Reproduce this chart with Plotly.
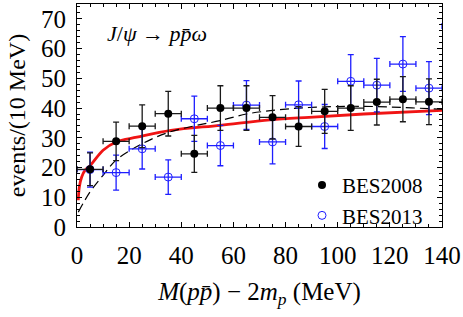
import plotly.graph_objects as go

# BES2008 (filled black)
bes08_x = [5, 15, 25, 35, 45, 55, 65, 75, 85, 95, 105, 115, 125, 135]
bes08_y = [19.4, 28.8, 33.9, 38.1, 24.6, 40.0, 40.0, 36.9, 33.8, 38.9, 40.0, 42.0, 43.0, 42.1]
bes08_err = [5.5, 6.5, 7.2, 7.5, 6.2, 7.5, 7.5, 7.3, 6.7, 7.4, 7.5, 7.7, 7.6, 7.7]

# BES2013 (open blue)
bes13_x = [5, 15, 25, 35, 45, 55, 65, 75, 85, 95, 105, 115, 125, 135, 145]
bes13_y = [19.3, 18.3, 26.3, 16.8, 36.4, 27.4, 41.0, 28.6, 41.1, 33.8, 49.0, 47.7, 54.8, 46.7, 67.6]
bes13_err = [5.9, 5.9, 6.8, 5.8, 7.6, 6.8, 8.2, 7.4, 8.0, 7.4, 9.0, 9.0, 9.2, 8.9, 9.0]

bin_half = 5

# red solid curve
red_x = [0.5, 0.9, 1.8, 3.1, 5.2, 10, 15, 23, 36, 55, 74, 89, 110, 140]
red_y = [9.0, 13.5, 16.8, 19.1, 20.8, 25.8, 28.6, 30.2, 32.5, 34.2, 36.0, 36.9, 38.0, 39.2]

# black dashed curve
dash_x = [0.5, 5, 10, 15, 25, 35, 45, 55, 65, 75, 85, 95, 105, 115, 125, 135, 140]
dash_y = [5.0, 11.8, 17.4, 22.5, 28.0, 31.8, 34.0, 35.8, 38.0, 39.2, 40.0, 40.4, 40.6, 40.5, 40.2, 39.8, 39.6]

FONT = "Liberation Serif"
BLUE = "rgb(30,30,255)"
BLACK = "#1a1a1a"

fig = go.Figure()

fig.add_trace(go.Scatter(x=red_x, y=red_y, mode="lines", line=dict(color="rgb(240,20,20)", width=2.8, shape="spline"),
                         showlegend=False, hoverinfo="skip"))
fig.add_trace(go.Scatter(x=dash_x, y=dash_y, mode="lines", line=dict(color="black", width=1.2, dash="9px,5px", shape="spline"),
                         showlegend=False, hoverinfo="skip"))

fig.add_trace(go.Scatter(
    x=bes13_x, y=bes13_y, mode="markers", name="BES2013",
    marker=dict(symbol="circle-open", size=8, color=BLUE, line=dict(width=1, color=BLUE)),
    error_y=dict(type="data", array=bes13_err, color=BLUE, thickness=1.3, width=3),
    error_x=dict(type="constant", value=bin_half, color=BLUE, thickness=1.3, width=3),
))
fig.add_trace(go.Scatter(
    x=bes08_x, y=bes08_y, mode="markers", name="BES2008",
    marker=dict(symbol="circle", size=8, color="black"),
    error_y=dict(type="data", array=bes08_err, color=BLACK, thickness=1.3, width=3),
    error_x=dict(type="constant", value=bin_half, color=BLACK, thickness=1.3, width=3),
))

fig.add_annotation(xref="paper", yref="paper", x=(105 - 77) / 365, y=(227 - 33) / 223,
                   xanchor="left", yanchor="middle", showarrow=False,
                   text="<i>J</i>/<i>ψ</i> → <i>p</i><i>p̄</i><i>ω</i>",
                   font=dict(family=FONT, size=22, color="black"))

axis_common = dict(showline=True, linecolor="black", linewidth=1.2, mirror="allticks",
                   ticks="inside", ticklen=5, tickcolor="black", tickwidth=1,
                   showgrid=False, zeroline=False,
                   tickfont=dict(family=FONT, size=25, color="black"))

fig.update_xaxes(range=[0, 140], tick0=0, dtick=20,
                 minor=dict(dtick=5, ticks="inside", ticklen=3, tickcolor="black"),
                 ticklabelstandoff=6,
                 title=dict(text="<i>M</i>(<i>p</i><i>p̄</i>) − 2<i>m</i><sub><i>p</i></sub> (MeV)",
                            font=dict(family=FONT, size=25, color="black"), standoff=14),
                 **axis_common)
fig.update_yaxes(range=[0, 75], tick0=0, dtick=10,
                 minor=dict(dtick=2, ticks="inside", ticklen=3, tickcolor="black"),
                 ticklabelstandoff=5,
                 title=dict(text="events/(10 MeV)", font=dict(family=FONT, size=24, color="black"), standoff=8),
                 **axis_common)

fig.update_layout(
    width=463, height=317,
    margin=dict(l=77, r=21, t=4, b=90, autoexpand=False),
    plot_bgcolor="white", paper_bgcolor="white",
    legend=dict(x=(302 - 77) / 365, y=-0.04, xanchor="left", yanchor="bottom",
                font=dict(family=FONT, size=21, color="black"), bgcolor="rgba(0,0,0,0)",
                traceorder="reversed", itemwidth=30, tracegroupgap=0),
)

fig.write_html("out.html")
